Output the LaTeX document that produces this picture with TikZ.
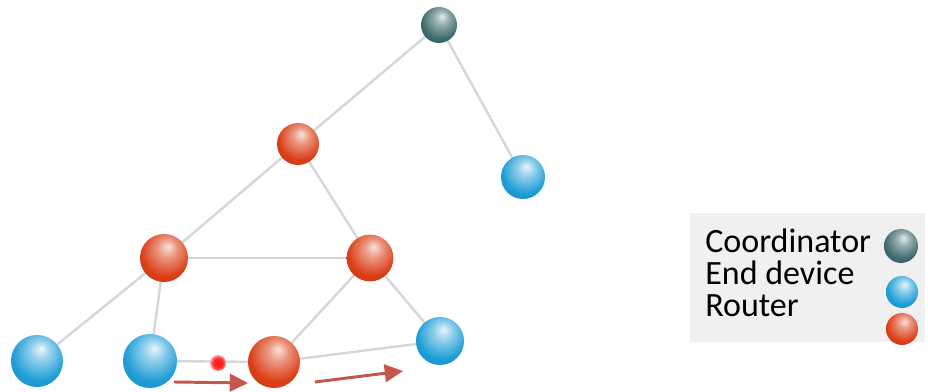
\documentclass[tikz,border=0pt]{standalone}
\usepackage{fontspec}
\setmainfont{Carlito}
\usetikzlibrary{arrows.meta,positioning,backgrounds,shadings}

\definecolor{coordc}{HTML}{3F6B6D}
\definecolor{endc}{HTML}{1E9DD6}
\definecolor{routc}{HTML}{DA3F17}
\definecolor{linkc}{HTML}{D6D6D6}
\definecolor{arrc}{HTML}{C4564C}
\definecolor{legc}{HTML}{F0F0F0}

% glossy spheres, lit from the upper right
\pgfdeclareradialshading{coordshade}{\pgfpoint{4bp}{12bp}}{%
    color(0bp)=(coordc!15!white); color(10bp)=(coordc!55!white);
    color(26bp)=(coordc); color(42bp)=(coordc!80!black); color(65bp)=(coordc!65!black)}
\pgfdeclareradialshading{endshade}{\pgfpoint{4bp}{12bp}}{%
    color(0bp)=(endc!10!white); color(10bp)=(endc!50!white);
    color(26bp)=(endc); color(42bp)=(endc!88!black); color(65bp)=(endc!75!black)}
\pgfdeclareradialshading{routshade}{\pgfpoint{4bp}{12bp}}{%
    color(0bp)=(routc!15!white); color(10bp)=(routc!55!white);
    color(26bp)=(routc); color(42bp)=(routc!88!black); color(65bp)=(routc!75!black)}
\pgfdeclareradialshading{pktshade}{\pgfpoint{0bp}{0bp}}{%
    color(0bp)=(red!90); color(15bp)=(red!85); color(25bp)=(red!35);
    color(45bp)=(red!5); color(50bp)=(white)}

\begin{document}
\begin{tikzpicture}[%
    x=0.025cm, y=-0.025cm,      % one unit is one pixel of the sketch
    >={Triangle[length=13pt, width=12.5pt]}
    ]

\tikzset{
    ball/.style={circle, inner sep=0pt},
    coordball/.style={ball, shading=coordshade},
    endball/.style={ball, shading=endshade},
    routball/.style={ball, shading=routshade},
    packet/.style={circle, inner sep=0pt, minimum size=0.4cm, shading=pktshade},
    % links and the flow of a packet
    link/.style={draw=linkc, line width=1.7pt},
    flow/.style={->, draw=arrc, fill=arrc, line width=2.1pt},
    legbox/.style={fill=legc, inner sep=0pt, minimum width=5.875cm, minimum height=3.225cm},
    legtext/.style={anchor=base west, inner sep=0pt, font=\fontsize{24.2pt}{32pt}\selectfont}
}

\useasboundingbox (0,0) rectangle (928,392);

%% Top
\node [coordball, minimum size=0.9cm] (coord) at (439,25) {};
\node [endball, minimum size=1.1cm] (etop) at (523,177) {};
\node [routball, minimum size=1.05cm] (rtop) at (298,144) {};

%% Middle row
\node [routball, minimum size=1.2cm] (rleft) at (164,258) {};
\node [routball, minimum size=1.17cm] (rright) at (370,258) {};

%% Lower row
\node [endball, minimum size=1.3cm] (eleft) at (37,361) {};
\node [endball, minimum size=1.35cm] (emid) at (150,361) {};
\node [routball, minimum size=1.3cm] (rlow) at (274,362) {};
\node [endball, minimum size=1.2cm] (eright) at (440,341) {};
\node [packet] (pkt) at (218,363) {};

%% Links
\begin{scope}[on background layer]
    \draw [link] (coord.center) -- (rtop.center);
    \draw [link] (coord.center) -- (etop.center);
    \draw [link] (rtop.center) -- (rleft.center);
    \draw [link] (rtop.center) -- (rright.center);
    \draw [link] (rleft.center) -- (rright.center);
    \draw [link] (rleft.center) -- (eleft.center);
    \draw [link] (rleft.center) -- (emid.center);
    \draw [link] (rright.center) -- (rlow.center);
    \draw [link] (rright.center) -- (eright.center);
    \draw [link] (emid.center) -- (rlow.center);
    \draw [link] (rlow.center) -- (eright.center);
\end{scope}

%% Packet flow
\coordinate (f1s) at (174,382);
\coordinate (f1e) at (248,383);
\coordinate (f2s) at (315,382);
\coordinate (f2e) at (403,371);
    \draw [flow] (f1s) -- (f1e);
    \draw [flow] (f2s) -- (f2e);

%% Legend
\node [legbox] (legend) at (807.5,277.5) {};
\node [legtext] (lcoord) at (705,253) {Coordinator};
\node [legtext] (lend) at (705,285) {End device};
\node [legtext] (lrout) at (705,317) {Router};
\node [coordball, minimum size=0.85cm] (kcoord) at (901,246) {};
\node [endball, minimum size=0.8cm] (kend) at (902,292) {};
\node [routball, minimum size=0.8cm] (krout) at (902,329) {};
\end{tikzpicture}
\end{document}
